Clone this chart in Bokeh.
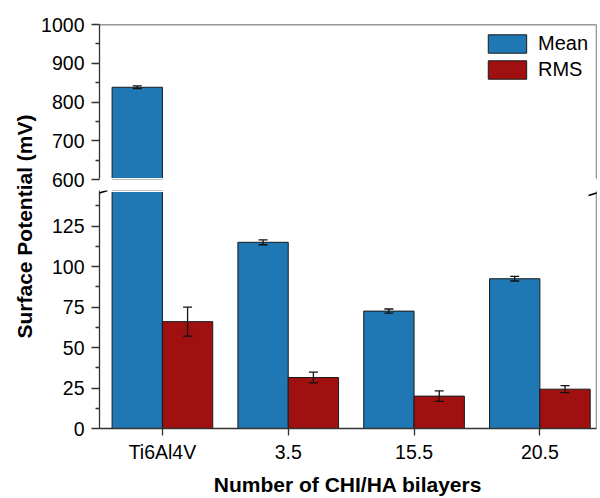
import numpy as np
from bokeh.plotting import figure
from bokeh.models import (ColumnDataSource, Range1d, FixedTicker, Whisker, TeeHead,
                          Span, Arrow, Label, Legend, LegendItem, CDSView, BooleanFilter)
from bokeh.layouts import row, column
from bokeh.transform import dodge
from bokeh.embed import file_html
from bokeh.resources import INLINE

# ---------------- data ----------------
categories = ["Ti6Al4V", "3.5", "15.5", "20.5"]
mean_vals = [838, 115, 72.5, 92.5]
mean_err = [3.5, 1.5, 1.3, 1.4]
rms_vals = [66, 31.5, 20, 24.3]
rms_err = [9, 3.3, 3.3, 2.2]

upper_ticks = [600, 700, 800, 900, 1000]
upper_minor = [650, 750, 850, 950]
lower_ticks = [0, 25, 50, 75, 100, 125]
lower_minor = [12.5, 37.5, 62.5, 87.5, 112.5, 137.5]

UPPER = (600, 1000)
LOWER = (0, 147)
X_RANGE = (-0.5, 3.45)
BAR_W = 0.4

BLUE = "#1f77b4"
RED = "#a01010"
EDGE = "#1a1a1a"
AXC = "#333333"
FONT = "Liberation Sans"

# layout (pixels)
W_MAIN = 562
UP_TOP, UP_FRAME, UP_BOT = 24, 155, 11
LO_TOP, LO_FRAME, LO_BOT = 0, 241, 67
UP_PPU = UP_FRAME / (UPPER[1] - UPPER[0])
LO_PPU = LO_FRAME / (LOWER[1] - LOWER[0])
X_PPU = (W_MAIN - 60 - 4) / (X_RANGE[1] - X_RANGE[0])

src = ColumnDataSource(dict(
    x=list(range(len(categories))),
    mean=mean_vals,
    rms=rms_vals,
    mean_lo=[m - e for m, e in zip(mean_vals, mean_err)],
    mean_hi=[m + e for m, e in zip(mean_vals, mean_err)],
    rms_lo=[m - e for m, e in zip(rms_vals, rms_err)],
    rms_hi=[m + e for m, e in zip(rms_vals, rms_err)],
))

x_range = Range1d(*X_RANGE)


def style_y(axis, ticks, minor):
    axis.ticker = FixedTicker(ticks=ticks, minor_ticks=minor)
    axis.axis_line_color = AXC
    axis.axis_line_width = 1.3
    axis.major_tick_line_color = AXC
    axis.minor_tick_line_color = AXC
    axis.major_tick_line_width = 1.3
    axis.minor_tick_line_width = 1.3
    axis.major_tick_out = 8
    axis.major_tick_in = 0
    axis.minor_tick_out = 4
    axis.minor_tick_in = 0
    axis.major_label_standoff = 7
    axis.major_label_text_font = FONT
    axis.major_label_text_font_size = "19.5px"
    axis.major_label_text_color = "black"


def make_fig(height, yr, ticks, minor, b_top, b_bottom, show_x):
    p = figure(width=W_MAIN, height=height, x_range=x_range, y_range=Range1d(*yr),
               output_backend="svg", toolbar_location=None,
               min_border_left=60, min_border_right=4,
               min_border_top=b_top, min_border_bottom=b_bottom,
               x_axis_location="below" if show_x else None)
    p.outline_line_color = None
    p.grid.visible = False
    p.background_fill_color = "white"
    p.border_fill_color = "white"
    style_y(p.yaxis[0], ticks, minor)

    # only bars that reach into this panel's value range are drawn here
    view_m = CDSView(filter=BooleanFilter([v > yr[0] for v in mean_vals]))
    view_r = CDSView(filter=BooleanFilter([v > yr[0] for v in rms_vals]))
    p.vbar(x=dodge("x", -BAR_W / 2, range=p.x_range), top="mean", bottom=0,
           width=BAR_W, fill_color=BLUE, line_color=EDGE, line_width=1,
           source=src, view=view_m)
    p.vbar(x=dodge("x", BAR_W / 2, range=p.x_range), top="rms", bottom=0,
           width=BAR_W, fill_color=RED, line_color=EDGE, line_width=1,
           source=src, view=view_r)
    for off, lo, hi in [(-BAR_W / 2, "mean_lo", "mean_hi"), (BAR_W / 2, "rms_lo", "rms_hi")]:
        w = Whisker(source=src, base=dodge("x", off, range=p.x_range), upper=hi, lower=lo,
                    line_color="#111111", line_width=1.3, level="overlay",
                    upper_head=TeeHead(size=9, line_color="#111111", line_width=1.3),
                    lower_head=TeeHead(size=9, line_color="#111111", line_width=1.3))
        p.add_layout(w)

    p.add_layout(Span(location=X_RANGE[1], dimension="height", line_color=AXC, line_width=1.3))
    return p


upper = make_fig(UP_TOP + UP_FRAME + UP_BOT, UPPER, upper_ticks, upper_minor,
                 UP_TOP, UP_BOT, False)
lower = make_fig(LO_TOP + LO_FRAME + LO_BOT, LOWER, lower_ticks, lower_minor,
                 LO_TOP, LO_BOT, True)

upper.add_layout(Span(location=UPPER[1], dimension="width", line_color=AXC, line_width=1.3))
# clean cut edges at the break
upper.add_layout(Span(location=UPPER[0], dimension="width", line_color="white", line_width=3))
lower.add_layout(Span(location=LOWER[1], dimension="width", line_color="white", line_width=3))

# legend-only (hidden) renderers carrying the series styles
lg_m = upper.vbar(x="x", top="mean", bottom=0, width=BAR_W, fill_color=BLUE,
                  line_color=EDGE, line_width=1, source=src, visible=False)
lg_r = upper.vbar(x="x", top="rms", bottom=0, width=BAR_W, fill_color=RED,
                  line_color=EDGE, line_width=1, source=src, visible=False)
legend = Legend(items=[LegendItem(label="Mean", renderers=[lg_m]),
                       LegendItem(label="RMS", renderers=[lg_r])],
                location="top_right", background_fill_alpha=0, border_line_color=None,
                label_text_font=FONT, label_text_font_size="20px", label_text_color="black",
                glyph_width=48, glyph_height=23, spacing=3, padding=0, margin=8,
                label_standoff=7, label_height=23,
                inactive_fill_alpha=0, click_policy="none")
upper.add_layout(legend)

# x axis of lower panel
xa = lower.xaxis[0]
xa.ticker = FixedTicker(ticks=list(range(len(categories))), minor_ticks=[])
xa.major_label_overrides = {i: c for i, c in enumerate(categories)}
xa.axis_line_color = AXC
xa.axis_line_width = 1.3
xa.major_tick_line_color = AXC
xa.major_tick_line_width = 1.3
xa.major_tick_out = 7
xa.major_tick_in = 0
xa.major_label_standoff = 5
xa.major_label_text_font = FONT
xa.major_label_text_font_size = "19.5px"
xa.major_label_text_color = "black"
xa.axis_label = "Number of CHI/HA bilayers"
xa.axis_label_standoff = 7
xa.axis_label_text_font = FONT
xa.axis_label_text_font_size = "21px"
xa.axis_label_text_font_style = "bold"
xa.axis_label_text_color = "black"

# axis-break marks and continuation of the left axis line through the gap
dx = 8 / X_PPU
for xc in X_RANGE:
    yc = UPPER[0] - 4 / UP_PPU
    upper.add_layout(Arrow(x_start=xc - dx, y_start=yc - 2.5 / UP_PPU,
                           x_end=xc + dx, y_end=yc + 2.5 / UP_PPU,
                           start=None, end=None, line_color="black", line_width=1.7))
    yc = LOWER[1] - 2.5 / LO_PPU
    lower.add_layout(Arrow(x_start=xc - dx, y_start=yc - 2.5 / LO_PPU,
                           x_end=xc + dx, y_end=yc + 2.5 / LO_PPU,
                           start=None, end=None, line_color="black", line_width=1.7))
upper.add_layout(Arrow(x_start=X_RANGE[0], y_start=UPPER[0], x_end=X_RANGE[0],
                       y_end=UPPER[0] - UP_BOT / UP_PPU, start=None, end=None,
                       line_color=AXC, line_width=1.3))

# y-axis title panel
H = UP_TOP + UP_FRAME + UP_BOT + LO_TOP + LO_FRAME + LO_BOT
ylab = figure(width=38, height=H, x_range=Range1d(0, 38), y_range=Range1d(0, H),
              output_backend="svg", toolbar_location=None, min_border=0,
              x_axis_location=None, y_axis_location=None)
ylab.outline_line_color = None
ylab.grid.visible = False
ylab.add_layout(Label(x=24, y=H - 226, text="Surface Potential (mV)", angle=np.pi / 2,
                      text_align="center", text_baseline="middle", text_font=FONT,
                      text_font_style="bold", text_font_size="21px", text_color="black"))

layout = row(ylab, column(upper, lower, spacing=0), spacing=0)
open("out.html", "w").write(file_html(layout, INLINE))
